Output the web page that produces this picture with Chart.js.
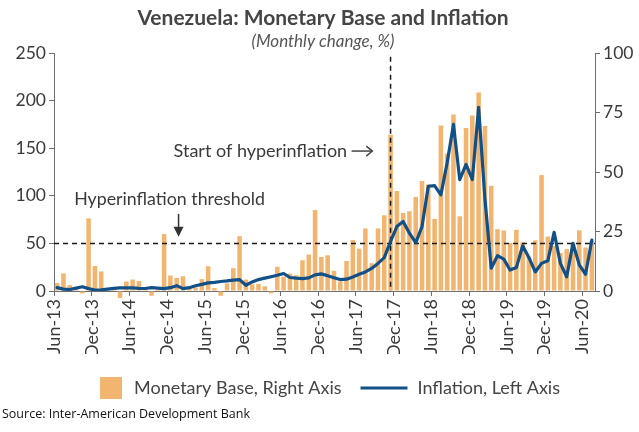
<!DOCTYPE html>
<html><head><meta charset="utf-8">
<script src="https://cdn.jsdelivr.net/npm/chart.js@4.4.0/dist/chart.umd.min.js"></script>
<style>html,body{margin:0;padding:0;background:#fff;}#wrap{width:639px;height:432px;position:relative;}</style>
</head><body><div id="wrap"><canvas id="c" width="639" height="432"></canvas></div>
<script>
const titleText = 'Venezuela: Monetary Base and Inflation';
const subtitleText = '(Monthly change, %)';
const sourceText = 'Source: Inter-American Development Bank';
const months = ['Jun-13','Jul-13','Aug-13','Sep-13','Oct-13','Nov-13','Dec-13',
'Jan-14','Feb-14','Mar-14','Apr-14','May-14','Jun-14','Jul-14','Aug-14','Sep-14','Oct-14','Nov-14','Dec-14',
'Jan-15','Feb-15','Mar-15','Apr-15','May-15','Jun-15','Jul-15','Aug-15','Sep-15','Oct-15','Nov-15','Dec-15',
'Jan-16','Feb-16','Mar-16','Apr-16','May-16','Jun-16','Jul-16','Aug-16','Sep-16','Oct-16','Nov-16','Dec-16',
'Jan-17','Feb-17','Mar-17','Apr-17','May-17','Jun-17','Jul-17','Aug-17','Sep-17','Oct-17','Nov-17','Dec-17',
'Jan-18','Feb-18','Mar-18','Apr-18','May-18','Jun-18','Jul-18','Aug-18','Sep-18','Oct-18','Nov-18','Dec-18',
'Jan-19','Feb-19','Mar-19','Apr-19','May-19','Jun-19','Jul-19','Aug-19','Sep-19','Oct-19','Nov-19','Dec-19',
'Jan-20','Feb-20','Mar-20','Apr-20','May-20','Jun-20','Jul-20'];
const tickLabels = ['Jun-13','Dec-13','Jun-14','Dec-14','Jun-15','Dec-15','Jun-16','Dec-16','Jun-17','Dec-17','Jun-18','Dec-18','Jun-19','Dec-19','Jun-20'];
// Monetary base, monthly change % (right axis)
const monetaryBase = [3.3,7.4,2.5,1.0,-1.0,30.5,10.5,8.2,0.5,0.8,
-3.0,4.0,4.8,4.2,0.6,-2.0,1.0,23.9,6.5,5.5,
6.2,1.5,1.5,5.0,10.4,1.2,-2.0,3.2,9.6,23.0,
4.8,2.8,3.0,2.0,-1.0,10.2,6.0,7.3,6.6,12.9,
15.3,34.0,14.3,15.0,8.5,4.0,12.6,21.4,17.8,26.3,
11.7,26.3,31.8,65.7,42.0,32.8,33.5,39.5,46.2,44.8,
30.3,69.5,57.7,74.2,31.4,68.5,73.7,83.4,69.3,44.2,
26.0,25.4,20.2,25.7,20.5,14.5,21.3,48.7,22.9,19.0,
16.0,17.6,20.0,25.5,18.3,21.0];
// Inflation, monthly % (left axis)
const inflation = [3.5,2.0,1.5,3.0,4.5,2.5,1.0,1.2,2.0,2.8,
3.3,3.4,3.2,2.8,2.6,3.5,3.0,2.5,3.5,5.6,
2.5,3.5,5.5,7.0,8.5,9.0,10.0,10.6,11.5,12.0,
6.0,9.5,12.0,13.5,15.0,16.6,18.4,14.2,13.5,13.0,
13.8,17.0,18.0,16.0,14.0,12.0,12.4,14.8,17.6,20.0,
23.7,29.0,35.0,52.0,67.7,73.0,60.7,50.7,67.7,110.0,
110.7,101.0,134.7,175.0,117.0,133.0,117.0,193.0,97.0,24.0,
37.0,33.5,22.0,24.6,47.5,35.0,20.0,29.0,31.7,61.6,
29.0,14.8,50.0,27.5,17.6,53.5];
const thresholdValue = 50;          // left axis
const hyperStartMonth = 'Nov-17';

const FONT = 'Lato, "Open Sans", sans-serif';
const BAR_COLOR = '#f2b56f';
const LINE_COLOR = '#125088';
const AXIS_COLOR = '#6e6e6e';
const TEXT_COLOR = '#3a3a3a';

const toPts = arr => arr.map((v, i) => ({x: i + 0.5, y: v}));

const decor = {
  id: 'decor',
  afterDatasetDraw(chart, args) {
    if (args.index !== 1) return;
    const {ctx, chartArea: a, scales} = chart;
    const yL = scales.yL, x = scales.x;
    ctx.save();
    ctx.strokeStyle = '#1a1a1a';
    ctx.lineWidth = 1.5;
    ctx.setLineDash([5, 4]);
    const yt = Math.round(yL.getPixelForValue(thresholdValue)) + 0.5;
    ctx.beginPath(); ctx.moveTo(a.left, yt); ctx.lineTo(a.right, yt); ctx.stroke();
    const xs = x.getPixelForValue(months.indexOf(hyperStartMonth) + 0.5);
    ctx.beginPath(); ctx.moveTo(xs, yL.getPixelForValue(246)); ctx.lineTo(xs, a.bottom); ctx.stroke();
    ctx.restore();
  },
  afterDraw(chart) {
    const {ctx, scales} = chart;
    const yL = scales.yL, x = scales.x;
    ctx.save();
    // title
    ctx.textAlign = 'center'; ctx.textBaseline = 'middle';
    ctx.fillStyle = '#454545';
    ctx.font = 'bold 21px ' + FONT;
    ctx.fillText(titleText, 323, 18);
    ctx.fillStyle = '#555';
    ctx.font = 'italic 17px ' + FONT;
    ctx.fillText(subtitleText, 323, 42);
    // annotations
    ctx.fillStyle = TEXT_COLOR;
    ctx.font = '17.8px ' + FONT;
    ctx.textAlign = 'left';
    ctx.fillText('Hyperinflation threshold', x.getPixelForValue(3.2), yL.getPixelForValue(96));
    const ax = x.getPixelForValue(19.8);
    const ay1 = yL.getPixelForValue(81), ay2 = yL.getPixelForValue(57);
    ctx.strokeStyle = '#333'; ctx.lineWidth = 1.5;
    ctx.beginPath(); ctx.moveTo(ax, ay1); ctx.lineTo(ax, ay2 - 8); ctx.stroke();
    ctx.fillStyle = '#333';
    ctx.beginPath(); ctx.moveTo(ax - 5, ay2 - 10); ctx.lineTo(ax + 5, ay2 - 10); ctx.lineTo(ax, ay2); ctx.closePath(); ctx.fill();
    ctx.fillStyle = TEXT_COLOR;
    ctx.textAlign = 'right';
    ctx.font = '18px ' + FONT;
    const sy = yL.getPixelForValue(147);
    ctx.fillText('Start of hyperinflation', x.getPixelForValue(46.6), sy);
    const bx1 = x.getPixelForValue(47.3), bx2 = x.getPixelForValue(50.6);
    ctx.strokeStyle = '#444'; ctx.lineWidth = 1.5;
    ctx.beginPath(); ctx.moveTo(bx1, sy); ctx.lineTo(bx2, sy); ctx.stroke();
    ctx.beginPath(); ctx.moveTo(bx2 - 6, sy - 5); ctx.lineTo(bx2, sy); ctx.lineTo(bx2 - 6, sy + 5); ctx.stroke();
    // legend
    const ly = 388;
    ctx.font = '18px ' + FONT;
    ctx.textAlign = 'left';
    const t1 = chart.data.datasets[1].label, t2 = chart.data.datasets[0].label;
    const w1 = ctx.measureText(t1).width, w2 = ctx.measureText(t2).width;
    const total = 22 + 12 + w1 + 19 + 47 + 10 + w2;
    let lx = 330 - total / 2;
    ctx.fillStyle = BAR_COLOR;
    ctx.fillRect(lx, ly - 11, 22, 22);
    lx += 34;
    ctx.fillStyle = '#444';
    ctx.fillText(t1, lx, ly);
    lx += w1 + 19;
    ctx.strokeStyle = LINE_COLOR; ctx.lineWidth = 3;
    ctx.beginPath(); ctx.moveTo(lx, ly); ctx.lineTo(lx + 47, ly); ctx.stroke();
    lx += 57;
    ctx.fillText(t2, lx, ly);
    // source
    ctx.fillStyle = '#111';
    ctx.font = '12.5px "Open Sans", sans-serif';
    ctx.fillText(sourceText, 2, 414);
    ctx.restore();
  }
};

new Chart(document.getElementById('c'), {
  data: {
    datasets: [
      { type: 'line', label: 'Inflation, Left Axis', data: toPts(inflation), yAxisID: 'yL',
        borderColor: LINE_COLOR, borderWidth: 3.2, pointRadius: 0, tension: 0, order: 0,
        borderJoinStyle: 'round', borderCapStyle: 'round' },
      { type: 'bar', label: 'Monetary Base, Right Axis', data: toPts(monetaryBase), yAxisID: 'yR',
        backgroundColor: BAR_COLOR, borderWidth: 0, categoryPercentage: 1, barPercentage: 0.72,
        order: 1, clip: false }
    ]
  },
  options: {
    responsive: false, animation: false, devicePixelRatio: 1,
    layout: { padding: { top: 53, bottom: 78, left: 0, right: 0 } },
    plugins: { legend: { display: false }, tooltip: { enabled: false }, title: { display: false } },
    scales: {
      x: { type: 'linear', min: 0, max: months.length, offset: false,
        afterFit: s => { s.height = 63; },
        ticks: { stepSize: 6, includeBounds: false, autoSkip: false, maxRotation: 90, minRotation: 90,
          callback: v => tickLabels[v / 6], font: { family: FONT, size: 18 }, color: TEXT_COLOR, padding: 3 },
        grid: { offset: false, drawOnChartArea: false, drawTicks: true, tickLength: 5, color: AXIS_COLOR },
        border: { color: AXIS_COLOR, width: 1 } },
      yL: { position: 'left', min: 0, max: 250,
        afterFit: s => { s.width = 54; },
        ticks: { stepSize: 50, font: { family: FONT, size: 17.5 }, color: TEXT_COLOR, padding: 3 },
        grid: { drawOnChartArea: false, drawTicks: true, tickLength: 5, color: AXIS_COLOR },
        border: { color: AXIS_COLOR, width: 1 } },
      yR: { position: 'right', min: 0, max: 100,
        afterFit: s => { s.width = 44; },
        ticks: { stepSize: 25, font: { family: FONT, size: 17.5 }, color: TEXT_COLOR, padding: 3 },
        grid: { drawOnChartArea: false, drawTicks: true, tickLength: 5, color: AXIS_COLOR },
        border: { color: AXIS_COLOR, width: 1 } }
    }
  },
  plugins: [decor]
});
</script></body></html>
